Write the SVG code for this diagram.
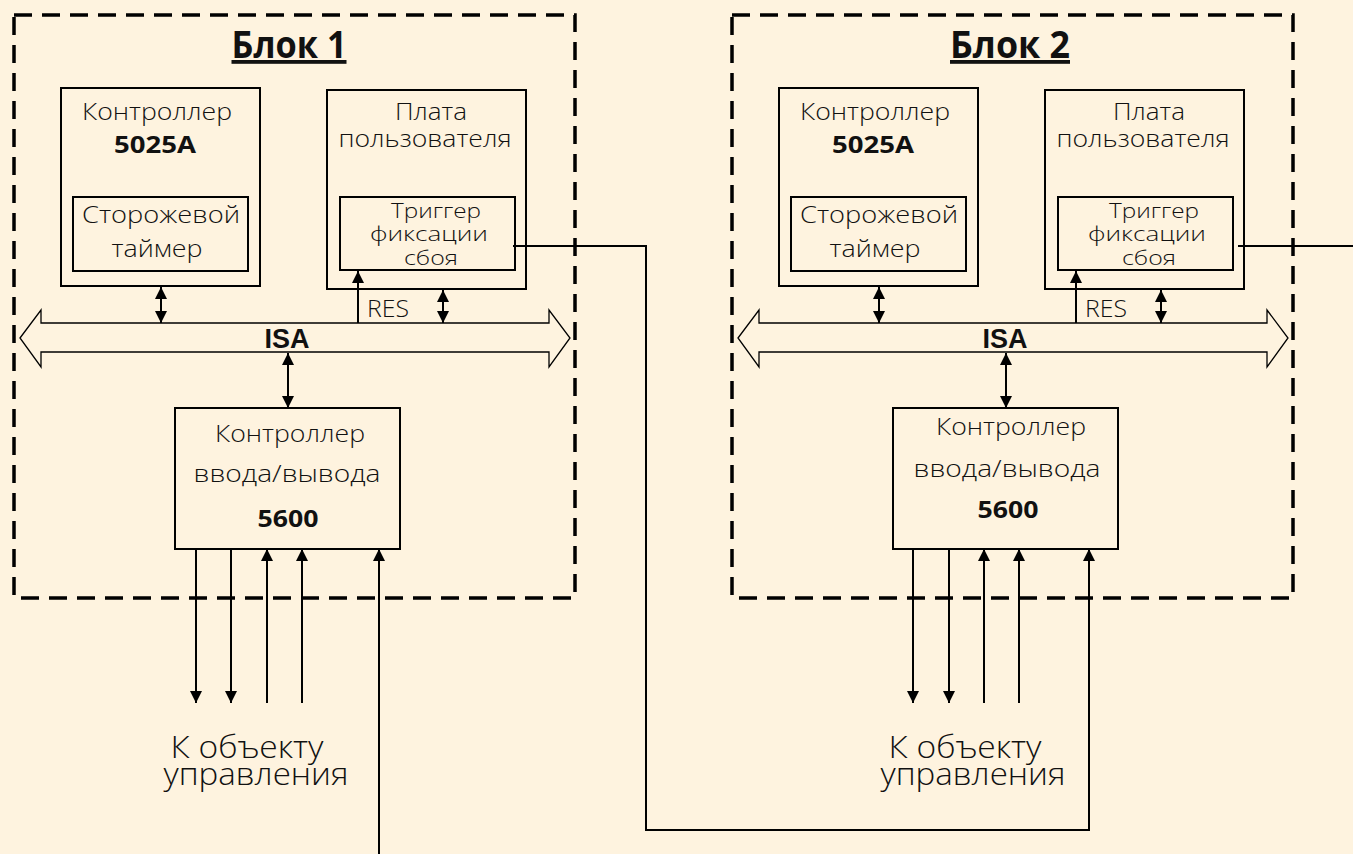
<svg xmlns="http://www.w3.org/2000/svg" width="1353" height="854" viewBox="0 0 1353 854">
  <defs>
    <marker id="ah" viewBox="0 0 12 12" refX="12" refY="6" markerWidth="12" markerHeight="12" markerUnits="userSpaceOnUse" orient="auto-start-reverse">
      <path d="M0,0 L12,6 L0,12 z" fill="#000"/>
    </marker>
    <style>
      .frame { fill: none; stroke: #000; stroke-width: 3.5; stroke-dasharray: 18 10; }
      .box { fill: none; stroke: #000; stroke-width: 2; }
      .bus { fill: none; stroke: #000; stroke-width: 1.3; }
      .wire { fill: none; stroke: #000; stroke-width: 2; }
      .arr { fill: none; stroke: #000; stroke-width: 2; marker-end: url(#ah); }
      .bi { fill: none; stroke: #000; stroke-width: 2; marker-start: url(#ah); marker-end: url(#ah); }
      text { font-family: "Open Sans", "Noto Sans", sans-serif; fill: #111; text-anchor: middle; font-weight: 300; }
      .t { font-size: 23px; }
      .s { font-size: 21px; }
      .b { font-size: 24px; font-weight: bold; }
      .title { font-size: 38px; font-weight: bold; text-decoration: underline; }
      .isa { font-family: "Liberation Sans", Arial, sans-serif; font-size: 27px; font-weight: bold; }
      .obj { font-size: 31px; }
    </style>
  </defs>

  <rect width="1353" height="854" fill="#fef3df"/>

  <!-- Block 1 -->
  <g id="block1">
    <rect class="frame" x="14" y="15" width="561" height="583"/>
    <text class="title" x="289" y="58" textLength="115" lengthAdjust="spacingAndGlyphs">Блок 1</text>
  </g>
  <g id="cpu1">
    <rect class="box" x="61" y="88" width="199" height="198"/>
    <text class="t" x="157" y="120" textLength="150" lengthAdjust="spacingAndGlyphs">Контроллер</text>
    <text class="b" x="155" y="153" textLength="82" lengthAdjust="spacingAndGlyphs">5025A</text>
  </g>
  <g id="wdt1">
    <rect class="box" x="73" y="197" width="175" height="74"/>
    <text class="t" x="161" y="223" textLength="158" lengthAdjust="spacingAndGlyphs">Сторожевой</text>
    <text class="t" x="157" y="257" textLength="91" lengthAdjust="spacingAndGlyphs">таймер</text>
  </g>
  <g id="board1">
    <rect class="box" x="327" y="90" width="199" height="199"/>
    <text class="t" x="431" y="120" textLength="72" lengthAdjust="spacingAndGlyphs">Плата</text>
    <text class="t" x="425" y="147" textLength="173" lengthAdjust="spacingAndGlyphs">пользователя</text>
  </g>
  <g id="trig1">
    <rect class="box" x="340" y="197" width="175" height="73"/>
    <text class="s" x="436" y="218" textLength="90" lengthAdjust="spacingAndGlyphs">Триггер</text>
    <text class="s" x="429" y="241" textLength="118" lengthAdjust="spacingAndGlyphs">фиксации</text>
    <text class="s" x="431" y="265" textLength="54" lengthAdjust="spacingAndGlyphs">сбоя</text>
  </g>
  <g id="isa1">
    <polygon class="bus" points="20,338 41,310 41,323 549,323 549,310 570,338 549,367 549,352 41,352 41,367"/>
    <text class="isa" x="287" y="348">ISA</text>
  </g>
  <g id="io1">
    <rect class="box" x="175" y="408" width="225" height="141"/>
    <text class="t" x="290" y="442" textLength="150" lengthAdjust="spacingAndGlyphs">Контроллер</text>
    <text class="t" x="287" y="482" textLength="187" lengthAdjust="spacingAndGlyphs">ввода/вывода</text>
    <text class="b" x="288" y="527" textLength="61" lengthAdjust="spacingAndGlyphs">5600</text>
  </g>
  <g id="obj1">
    <text class="obj" x="247" y="758" textLength="153" lengthAdjust="spacingAndGlyphs">К объекту</text>
    <text class="obj" x="256" y="785" textLength="185" lengthAdjust="spacingAndGlyphs">управления</text>
  </g>

  <!-- Block 2 -->
  <g id="block2">
    <rect class="frame" x="732" y="15" width="561" height="583"/>
    <text class="title" x="1010" y="58" textLength="120" lengthAdjust="spacingAndGlyphs">Блок 2</text>
  </g>
  <g id="cpu2">
    <rect class="box" x="779" y="88" width="199" height="198"/>
    <text class="t" x="875" y="120" textLength="150" lengthAdjust="spacingAndGlyphs">Контроллер</text>
    <text class="b" x="873" y="153" textLength="82" lengthAdjust="spacingAndGlyphs">5025A</text>
  </g>
  <g id="wdt2">
    <rect class="box" x="791" y="197" width="175" height="74"/>
    <text class="t" x="879" y="223" textLength="158" lengthAdjust="spacingAndGlyphs">Сторожевой</text>
    <text class="t" x="875" y="257" textLength="91" lengthAdjust="spacingAndGlyphs">таймер</text>
  </g>
  <g id="board2">
    <rect class="box" x="1045" y="90" width="199" height="199"/>
    <text class="t" x="1149" y="120" textLength="72" lengthAdjust="spacingAndGlyphs">Плата</text>
    <text class="t" x="1143" y="147" textLength="173" lengthAdjust="spacingAndGlyphs">пользователя</text>
  </g>
  <g id="trig2">
    <rect class="box" x="1058" y="197" width="175" height="73"/>
    <text class="s" x="1154" y="218" textLength="90" lengthAdjust="spacingAndGlyphs">Триггер</text>
    <text class="s" x="1147" y="241" textLength="118" lengthAdjust="spacingAndGlyphs">фиксации</text>
    <text class="s" x="1149" y="265" textLength="54" lengthAdjust="spacingAndGlyphs">сбоя</text>
  </g>
  <g id="isa2">
    <polygon class="bus" points="738,338 759,310 759,323 1267,323 1267,310 1288,338 1267,367 1267,352 759,352 759,367"/>
    <text class="isa" x="1005" y="348">ISA</text>
  </g>
  <g id="io2">
    <rect class="box" x="893" y="408" width="225" height="141"/>
    <text class="t" x="1011" y="435" textLength="150" lengthAdjust="spacingAndGlyphs">Контроллер</text>
    <text class="t" x="1007" y="477" textLength="187" lengthAdjust="spacingAndGlyphs">ввода/вывода</text>
    <text class="b" x="1008" y="518" textLength="61" lengthAdjust="spacingAndGlyphs">5600</text>
  </g>
  <g id="obj2">
    <text class="obj" x="965" y="758" textLength="153" lengthAdjust="spacingAndGlyphs">К объекту</text>
    <text class="obj" x="973" y="785" textLength="185" lengthAdjust="spacingAndGlyphs">управления</text>
  </g>

  <!-- Connectors -->
  <g id="connectors">
    <!-- block 1 -->
    <line class="bi" x1="161" y1="287" x2="161" y2="323"/>
    <line class="bi" x1="443" y1="290" x2="443" y2="323"/>
    <line class="arr" x1="358" y1="323" x2="358" y2="271"/>
    <text class="t" x="388" y="317" textLength="42" lengthAdjust="spacingAndGlyphs">RES</text>
    <line class="bi" x1="288" y1="353" x2="288" y2="408"/>
    <line class="arr" x1="196" y1="549" x2="196" y2="703"/>
    <line class="arr" x1="231" y1="549" x2="231" y2="703"/>
    <line class="arr" x1="267" y1="703" x2="267" y2="549"/>
    <line class="arr" x1="302" y1="703" x2="302" y2="549"/>
    <line class="arr" x1="379" y1="854" x2="379" y2="549"/>
    <path class="arr" d="M513,246 H646 V830 H1089 V549"/>
    <!-- block 2 -->
    <line class="bi" x1="879" y1="287" x2="879" y2="323"/>
    <line class="bi" x1="1161" y1="290" x2="1161" y2="323"/>
    <line class="arr" x1="1076" y1="323" x2="1076" y2="271"/>
    <text class="t" x="1106" y="317" textLength="42" lengthAdjust="spacingAndGlyphs">RES</text>
    <line class="bi" x1="1006" y1="353" x2="1006" y2="408"/>
    <line class="arr" x1="913" y1="549" x2="913" y2="703"/>
    <line class="arr" x1="949" y1="549" x2="949" y2="703"/>
    <line class="arr" x1="984" y1="703" x2="984" y2="549"/>
    <line class="arr" x1="1019" y1="703" x2="1019" y2="549"/>
    <path class="wire" d="M1238,246 H1353"/>
  </g>
</svg>
